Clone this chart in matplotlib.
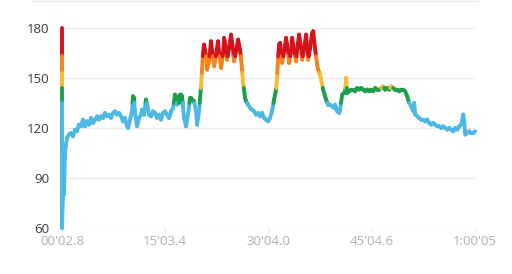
import matplotlib
matplotlib.use("Agg")
import matplotlib.pyplot as plt
from matplotlib.collections import LineCollection
from matplotlib.lines import Line2D

plt.rcParams['font.family'] = ['Open Sans', 'DejaVu Sans']

# heart rate samples (minutes, bpm)
minutes = [0.05, 0.05, 0.19, 0.34, 0.49, 0.63, 0.78, 1.07, 1.36, 1.65, 1.94, 2.23, 2.52, 2.81,
           3.10, 3.39, 3.69, 3.98, 4.27, 4.56, 4.85, 5.14, 5.43, 5.72, 6.01, 6.30, 6.59, 6.88,
           7.17, 7.47, 7.76, 8.05, 8.34, 8.63, 8.92, 9.21, 9.50, 9.65, 9.94, 10.23, 10.37, 10.52,
           10.66, 10.96, 11.25, 11.54, 11.68, 11.97, 12.26, 12.41, 12.70, 12.99, 13.28, 13.57,
           13.86, 14.15, 14.44, 14.74, 15.03, 15.32, 15.61, 15.90, 16.19, 16.48, 16.63, 16.77,
           17.06, 17.21, 17.35, 17.50, 17.79, 18.08, 18.37, 18.66, 18.81, 18.95, 19.24, 19.53,
           19.68, 19.97, 20.12, 20.26, 20.41, 20.55, 20.70, 20.99, 21.13, 21.42, 21.71, 21.86,
           22.15, 22.44, 22.73, 22.88, 23.17, 23.46, 23.60, 23.89, 24.04, 24.33, 24.62, 24.91,
           25.06, 25.35, 25.64, 25.93, 26.22, 26.37, 26.66, 26.80, 27.09, 27.38, 27.68, 27.97,
           28.26, 28.55, 28.84, 29.13, 29.42, 29.71, 30.00, 30.29, 30.58, 30.87, 31.02, 31.16,
           31.31, 31.46, 31.60, 31.75, 32.04, 32.33, 32.62, 32.91, 33.06, 33.35, 33.49, 33.78,
           34.07, 34.22, 34.51, 34.80, 34.95, 35.24, 35.53, 35.67, 35.82, 36.11, 36.40, 36.55,
           36.84, 37.13, 37.27, 37.56, 37.71, 38.00, 38.29, 38.44, 38.73, 39.02, 39.31, 39.60,
           39.74, 40.04, 40.33, 40.47, 40.76, 41.05, 41.20, 41.34, 41.49, 41.78, 42.07, 42.36,
           42.65, 42.94, 43.23, 43.52, 43.82, 44.11, 44.40, 44.69, 44.98, 45.27, 45.56, 45.85,
           46.14, 46.43, 46.72, 47.01, 47.30, 47.60, 47.89, 48.18, 48.47, 48.76, 49.05, 49.34,
           49.63, 49.92, 50.21, 50.50, 50.79, 51.09, 51.23, 51.38, 51.67, 51.96, 52.25, 52.54,
           52.83, 53.12, 53.41, 53.70, 53.99, 54.28, 54.58, 54.87, 55.16, 55.45, 55.74, 56.03,
           56.32, 56.61, 56.90, 57.19, 57.48, 57.77, 58.06, 58.36, 58.50, 58.65, 58.94, 59.23,
           59.52, 59.81, 60.08]
bpm = [180, 60, 79, 80, 105, 110, 114, 116, 117, 115, 119, 118, 122, 121,
       125, 121, 124, 122, 126, 123, 125, 127, 125, 127, 126, 129, 127, 128,
       126, 129, 130, 128, 129, 127, 124, 126, 121, 120, 125, 130, 139, 138,
       129, 121, 126, 128, 131, 128, 137, 135, 128, 127, 130, 129,
       126, 128, 125, 129, 130, 128, 126, 130, 132, 140, 139, 134,
       135, 140, 140, 139, 126, 121, 128, 138, 138, 137, 136, 130,
       122, 130, 138, 145, 155, 165, 170, 163, 155, 160, 172, 166,
       157, 164, 172, 165, 156, 165, 174, 168, 161, 168, 176, 167,
       160, 166, 173, 167, 155, 147, 138, 136, 134, 132, 131, 130,
       128, 129, 127, 129, 126, 125, 124, 126, 130, 137, 140, 143,
       150, 162, 170, 171, 159, 166, 174, 166, 159, 167, 174, 166,
       160, 167, 176, 168, 161, 168, 176, 168, 161, 168, 177, 178,
       167, 158, 155, 152, 149, 143, 139, 137, 134, 134, 133, 132,
       134, 130, 129, 131, 140, 141, 142, 150, 141, 142, 143, 143,
       142, 144, 143, 144, 143, 142, 143, 142, 143, 142, 144, 143,
       143, 144, 145, 143, 144, 143, 145, 144, 143, 143, 142, 143,
       143, 142, 139, 135, 133, 130, 135, 128, 127, 126, 125, 125,
       124, 125, 123, 122, 123, 122, 121, 121, 120, 121, 120, 119,
       120, 119, 118, 120, 119, 121, 122, 128, 124, 116, 117, 118,
       117, 117, 118]

zone_limits = [135, 144, 153, 163]
zone_colors = ['#4db8e4', '#1c9f4a', '#f8bb32', '#f5831f', '#d6131b']

x_tick_pos = [0.047, 15.057, 30.067, 45.077, 60.087]
x_tick_labels = ["00'02.8", "15'03.4", "30'04.0", "45'04.6", "1:00'05"]
y_ticks = [60, 90, 120, 150, 180]


def zone_of(v):
    z = 0
    for lim in zone_limits:
        if v >= lim:
            z += 1
    return z


# split every segment where it crosses a zone limit
segs = []
cols = []
for i in range(len(bpm) - 1):
    t0, h0, t1, h1 = minutes[i], bpm[i], minutes[i + 1], bpm[i + 1]
    pts = [(t0, h0)]
    lo, hi = min(h0, h1), max(h0, h1)
    cuts = [l for l in zone_limits if lo < l < hi]
    if h1 < h0:
        cuts = cuts[::-1]
    for c in cuts:
        f = (c - h0) / (h1 - h0)
        pts.append((t0 + f * (t1 - t0), c))
    pts.append((t1, h1))
    for a, b in zip(pts[:-1], pts[1:]):
        segs.append([a, b])
        cols.append(zone_colors[zone_of((a[1] + b[1]) / 2)])

fig = plt.figure(figsize=(5.12, 2.74), dpi=100)
ax = fig.add_axes([0.121, 0.168, 0.807, 0.730])

lc = LineCollection(segs, colors=cols, linewidths=2.8, capstyle='round', joinstyle='round',
                    clip_on=False, zorder=3)
ax.add_collection(lc)

ax.set_xlim(x_tick_pos[0], x_tick_pos[-1])
ax.set_ylim(60, 180)
ax.set_yticks(y_ticks)
ax.set_yticklabels([str(v) for v in y_ticks], color='#3a3a3a', fontsize=9.5)
ax.set_xticks(x_tick_pos)
ax.set_xticklabels(x_tick_labels, color='#b0b0b0', fontsize=9.5)
ax.tick_params(axis='y', length=0, pad=9)
ax.tick_params(axis='x', length=3, color='#e6e6e6', pad=2)
ax.grid(axis='y', color='#ebebeb', linewidth=0.9)
for s in ax.spines.values():
    s.set_visible(False)

fig.add_artist(Line2D([0.062, 0.934], [0.997, 0.997], color='#e6e6e6', linewidth=0.9,
                      transform=fig.transFigure))

fig.savefig('out.png', dpi=100, facecolor='white')
